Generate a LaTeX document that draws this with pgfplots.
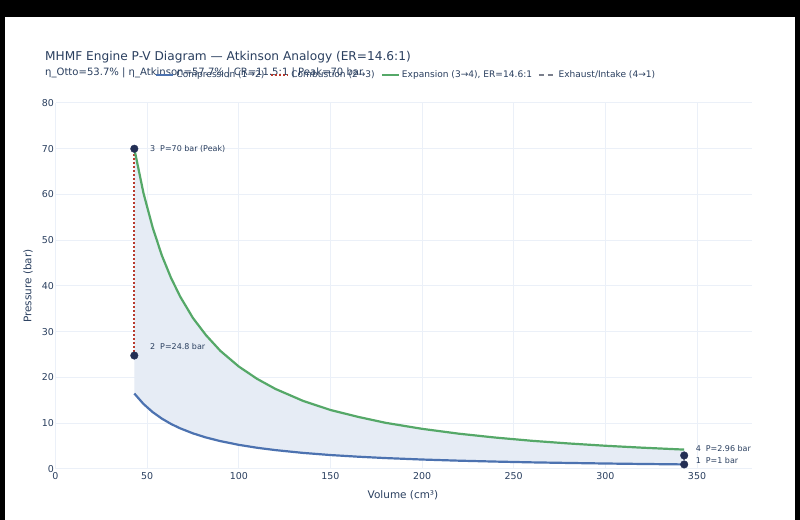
\documentclass[border=0pt]{standalone}
\usepackage{fontspec}
\setmainfont{DejaVu Sans}
\usepackage{pgfplots}
\pgfplotsset{compat=1.18}
\definecolor{txt}{HTML}{2A3F5F}
\definecolor{gridc}{HTML}{EBF0F8}
\definecolor{cblue}{HTML}{4C72B0}
\definecolor{cgreen}{HTML}{55A868}
\definecolor{cred}{HTML}{B83A2E}
\definecolor{cmark}{HTML}{232F55}
\definecolor{cfill}{HTML}{E6ECF5}
\definecolor{cgray}{HTML}{7A7F8C}
\begin{document}
\begin{tikzpicture}
\useasboundingbox (0bp,0bp) rectangle (800bp,520bp);
\fill[black] (0bp,0bp) rectangle (800bp,520bp);
\fill[white] (5bp,0bp) rectangle (795bp,503bp);
\node[anchor=west,inner sep=0pt,text=txt,font=\fontsize{12.2}{14}\selectfont] at (45bp,463bp) {MHMF Engine P-V Diagram — Atkinson Analogy (ER=14.6:1)};
\node[anchor=west,inner sep=0pt,text=txt,font=\fontsize{10.1}{12}\selectfont] at (45bp,447bp) {η\_Otto=53.7\% | η\_Atkinson=57.7\% | CR=11.5:1 | Peak=70 bar};
\begin{axis}[
  at={(55.5bp,51bp)}, anchor=south west,
  scale only axis, width=696.5bp, height=366bp,
  xmin=0, xmax=380, ymin=0, ymax=80,
  xtick={0,50,...,350}, ytick={0,10,...,80},
  grid=major, major grid style={draw=gridc, line width=1bp},
  axis line style={draw=none},
  major tick length=0pt,
  /pgf/number format/assume math mode=true,
  tick label style={font=\fontsize{9.5}{10}\selectfont, text=txt},
  xticklabel style={inner sep=0pt, yshift=-3.5bp},
  yticklabel style={inner sep=0pt, xshift=-1.5bp},
  legend style={at={(0.1429,1.0765)}, anchor=west, draw=none, fill=none, inner sep=0pt,
    font=\fontsize{9.1}{10}\selectfont, text=txt,
    /tikz/every even column/.append style={column sep=4bp}},
  legend columns=-1,
  legend cell align=left,
  clip=false,
]
\addplot[draw=none, fill=cfill, forget plot] coordinates {
(43,70.0) (48,60.3) (53,52.8) (58,46.7) (63,41.8) (68,37.7) (75,33.0) (82,29.3) (90,25.8) (100,22.4) (110,19.7) (120,17.5) (135,14.9) (150,12.9) (165,11.4) (180,10.1) (200,8.78) (220,7.72) (240,6.87) (260,6.16) (280,5.58) (300,5.08) (320,4.66) (343,4.24)
(343,1.00) (320,1.10) (300,1.20) (280,1.32) (260,1.45) (240,1.62) (220,1.82) (200,2.07) (180,2.39) (165,2.69) (150,3.05) (135,3.52) (120,4.13) (110,4.64) (100,5.28) (90,6.09) (82,6.90) (75,7.79) (68,8.89) (63,9.85) (58,11.02) (53,12.44) (48,14.22) (43,16.50)
};
\addplot[cblue, line width=2.2bp] coordinates {
(343,1.00) (320,1.10) (300,1.20) (280,1.32) (260,1.45) (240,1.62) (220,1.82) (200,2.07) (180,2.39) (165,2.69) (150,3.05) (135,3.52) (120,4.13) (110,4.64) (100,5.28) (90,6.09) (82,6.90) (75,7.79) (68,8.89) (63,9.85) (58,11.02) (53,12.44) (48,14.22) (43,16.50)
};
\addlegendentry{Compression (1→2)}
\addplot[cred, line width=2bp, dash pattern=on 2bp off 2bp] coordinates {(43,24.8) (43,70)};
\addlegendentry{Combustion (2→3)}
\addplot[cgreen, line width=2.2bp] coordinates {
(43,70.0) (48,60.3) (53,52.8) (58,46.7) (63,41.8) (68,37.7) (75,33.0) (82,29.3) (90,25.8) (100,22.4) (110,19.7) (120,17.5) (135,14.9) (150,12.9) (165,11.4) (180,10.1) (200,8.78) (220,7.72) (240,6.87) (260,6.16) (280,5.58) (300,5.08) (320,4.66) (343,4.24)
};
\addlegendentry{Expansion (3→4), ER=14.6:1}
\addplot[cgray, line width=1.5bp, dash pattern=on 5bp off 4bp] coordinates {(343,2.96) (343,1)};
\addlegendentry{Exhaust/Intake (4→1)}
\addplot[only marks, mark=*, mark size=3.8bp, color=cmark, forget plot] coordinates {(343,1) (43,24.8) (43,70) (343,2.96)};
\node[anchor=west,inner sep=0pt,font=\fontsize{8}{9}\selectfont,text=txt] at (axis cs:51.5,70) {3\ \ P=70 bar (Peak)};
\node[anchor=west,inner sep=0pt,font=\fontsize{8}{9}\selectfont,text=txt] at (axis cs:51.5,26.7) {2\ \ P=24.8 bar};
\node[anchor=west,inner sep=0pt,font=\fontsize{8}{9}\selectfont,text=txt] at (axis cs:349.2,4.37) {4\ \ P=2.96 bar};
\node[anchor=west,inner sep=0pt,font=\fontsize{8}{9}\selectfont,text=txt] at (axis cs:349.2,1.75) {1\ \ P=1 bar};
\end{axis}
\node[text=txt,font=\fontsize{10.5}{12}\selectfont] at (403bp,25bp) {Volume (cm³)};
\node[text=txt,font=\fontsize{10.5}{12}\selectfont,rotate=90] at (28bp,234bp) {Pressure (bar)};
\end{tikzpicture}
\end{document}
